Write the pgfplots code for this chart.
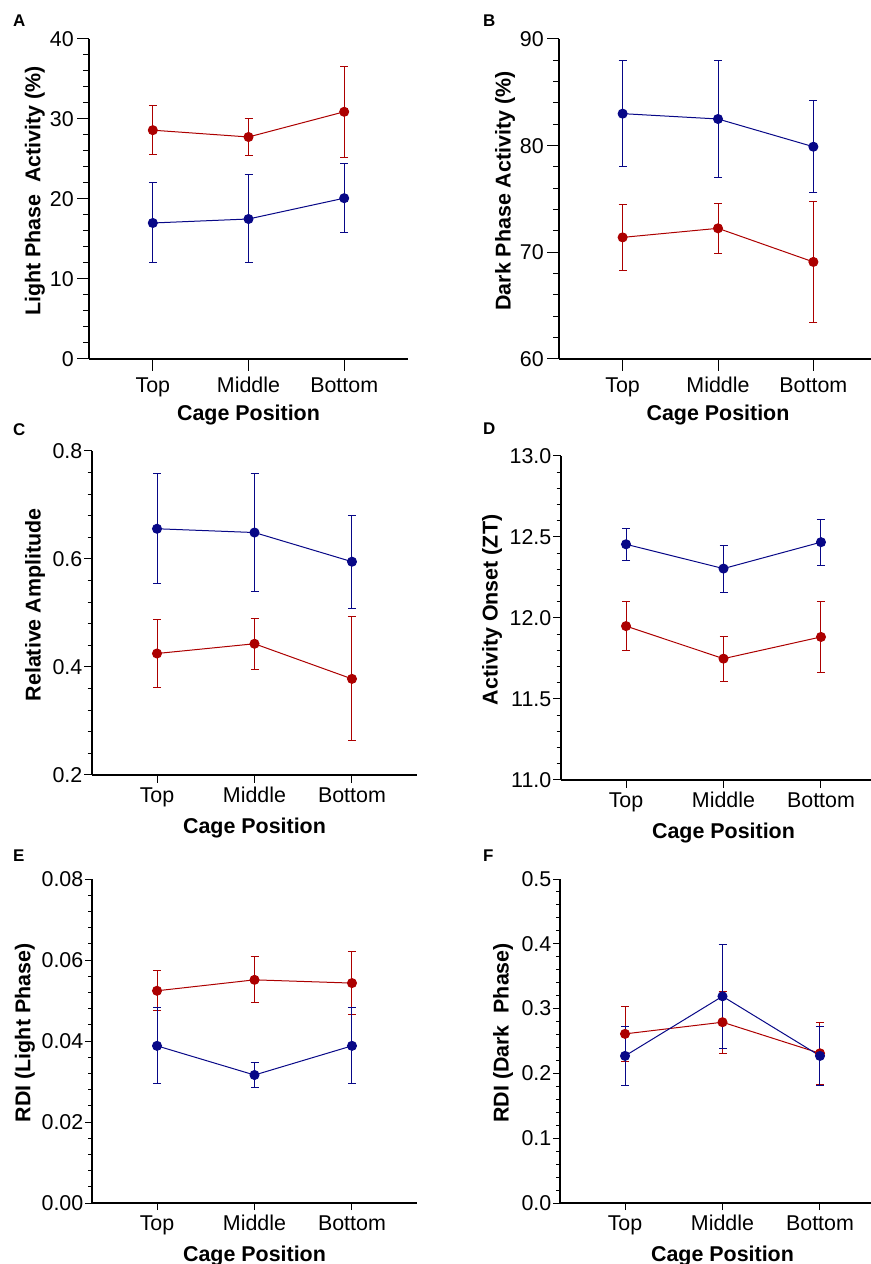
\documentclass[border=0pt]{standalone}
\usepackage{fontspec}
\setmainfont{Liberation Sans}
\usepackage{pgfplots}
\pgfplotsset{compat=1.18}
\definecolor{cred}{RGB}{172,0,0}
\definecolor{cblue}{RGB}{8,8,135}

\pgfplotsset{
  panel/.style={
    scale only axis, axis x line=bottom, axis y line=left,
    axis line style={-, line width=1.3bp, black},
    tick align=outside, tick style={black, line width=1bp},
    major tick length=8bp, minor tick length=4.5bp,
    minor y tick num=4,
    xtick={0,1,2}, xticklabels={Top,Middle,Bottom},
    xmin=-0.667, xmax=2.667,
    tick label style={font=\fontsize{21.5}{24}\selectfont},
    every axis x label/.style={at={(axis description cs:0.5,0)}, anchor=north,
      inner sep=0pt, yshift=-43bp, font=\bfseries\fontsize{21.5}{24}\selectfont},
    xticklabel style={inner sep=0pt, anchor=north, text height=15.4bp, text depth=4.5bp},
    yticklabel style={inner sep=0pt, anchor=east},
    xticklabel shift=4bp, yticklabel shift=1.5bp,
    scaled y ticks=false, clip=false,
    xlabel={Cage Position},
  },
  ylab/.style={every axis y label/.style={at={([xshift=-#1]axis description cs:0,0.525)},
      rotate=90, anchor=center, inner sep=0pt,
      font=\bfseries\fontsize{21.5}{24}\selectfont}},
  grp/.style={color=#1, line width=1bp, mark=*, mark size=4.5bp,
    mark options={solid, fill=#1, draw=#1},
    error bars/y dir=both, error bars/y explicit,
    error bars/error bar style={line width=1bp, #1},
    error bars/error mark options={line width=1bp, #1, mark size=4bp, rotate=90}},
}
\tikzset{letter/.style={anchor=north west, inner sep=0pt, font=\bfseries\fontsize{17}{19}\selectfont}}

\begin{document}
\begin{tikzpicture}
\useasboundingbox (0,0) rectangle (871bp,1264bp);

% A
\begin{axis}[panel, at={(89bp,905bp)}, anchor=south west,
  width=319bp, height=320bp, ymin=0, ymax=40,
  ytick={0,10,20,30,40}, yticklabels={0,10,20,30,40},
  major tick length=12bp, minor tick length=6bp,
  xticklabel shift=6bp, yticklabel shift=3bp,
  ylab=54bp, ylabel={Light Phase~ Activity (\%)},
  every axis x label/.append style={yshift=-3bp}]
\addplot[grp=cred] coordinates {(0,28.6) +- (0,3.1) (1,27.75) +- (0,2.35) (2,30.9) +- (0,5.7)};
\addplot[grp=cblue] coordinates {(0,17.0) +- (0,5.0) (1,17.5) +- (0,5.5) (2,20.1) +- (0,4.3)};
\end{axis}

% B
\begin{axis}[panel, at={(559bp,905bp)}, anchor=south west,
  width=318bp, height=320bp, ymin=60, ymax=90,
  ytick={60,70,80,90}, yticklabels={60,70,80,90},
  major tick length=12bp, minor tick length=6bp,
  xticklabel shift=6bp, yticklabel shift=3bp,
  ylab=54bp, ylabel={Dark Phase Activity (\%)},
  every axis x label/.append style={yshift=-3bp}]
\addplot[grp=cred] coordinates {(0,71.4) +- (0,3.1) (1,72.25) +- (0,2.35) (2,69.1) +- (0,5.7)};
\addplot[grp=cblue] coordinates {(0,83.0) +- (0,5.0) (1,82.5) +- (0,5.5) (2,79.9) +- (0,4.3)};
\end{axis}

% C
\begin{axis}[panel, at={(92bp,489bp)}, anchor=south west,
  width=325bp, height=324bp, ymin=0.2, ymax=0.8,
  ytick={0.2,0.4,0.6,0.8}, yticklabels={0.2,0.4,0.6,0.8},
  ylab=57bp, ylabel={Relative Amplitude}]
\addplot[grp=cred] coordinates {(0,0.425) +- (0,0.0625) (1,0.443) +- (0,0.047) (2,0.378) +- (0,0.115)};
\addplot[grp=cblue] coordinates {(0,0.656) +- (0,0.102) (1,0.649) +- (0,0.110) (2,0.595) +- (0,0.086)};
\end{axis}

% D
\begin{axis}[panel, at={(561bp,484bp)}, anchor=south west,
  width=325bp, height=324bp, ymin=11, ymax=13,
  ytick={11,11.5,12,12.5,13}, yticklabels={11.0,11.5,12.0,12.5,13.0},
  ylab=69bp, ylabel={Activity Onset (ZT)}]
\addplot[grp=cred] coordinates {(0,11.95) +- (0,0.149) (1,11.749) +- (0,0.139) (2,11.883) +- (0,0.219)};
\addplot[grp=cblue] coordinates {(0,12.455) +- (0,0.10) (1,12.305) +- (0,0.145) (2,12.468) +- (0,0.143)};
\end{axis}

% E
\begin{axis}[panel, at={(92bp,61bp)}, anchor=south west,
  width=325bp, height=324bp, ymin=0, ymax=0.08,
  ytick={0,0.02,0.04,0.06,0.08}, yticklabels={0.00,0.02,0.04,0.06,0.08},
  major tick length=7bp, minor tick length=4bp, xticklabel shift=5bp,
  ylab=67bp, ylabel={RDI (Light Phase)}]
\addplot[grp=cred] coordinates {(0,0.0524) +- (0,0.0049) (1,0.0551) +- (0,0.0057) (2,0.0543) +- (0,0.0077)};
\addplot[grp=cblue] coordinates {(0,0.0388) +- (0,0.0094) (1,0.0316) +- (0,0.0030) (2,0.0388) +- (0,0.0094)};
\end{axis}

% F
\begin{axis}[panel, at={(560bp,61bp)}, anchor=south west,
  width=325bp, height=324bp, ymin=0, ymax=0.5,
  ytick={0,0.1,0.2,0.3,0.4,0.5}, yticklabels={0.0,0.1,0.2,0.3,0.4,0.5},
  major tick length=7bp, minor tick length=4bp, xticklabel shift=5bp,
  ylab=57bp, ylabel={RDI (Dark~ Phase)}]
\addplot[grp=cred] coordinates {(0,0.261) +- (0,0.043) (1,0.279) +- (0,0.048) (2,0.231) +- (0,0.048)};
\addplot[grp=cblue] coordinates {(0,0.227) +- (0,0.045) (1,0.319) +- (0,0.080) (2,0.227) +- (0,0.045)};
\end{axis}

\node[letter] at (13bp,1249bp) {A};
\node[letter] at (483bp,1249bp) {B};
\node[letter] at (13bp,841bp) {C};
\node[letter] at (483bp,841bp) {D};
\node[letter] at (13bp,414bp) {E};
\node[letter] at (483bp,414bp) {F};
\end{tikzpicture}
\end{document}
